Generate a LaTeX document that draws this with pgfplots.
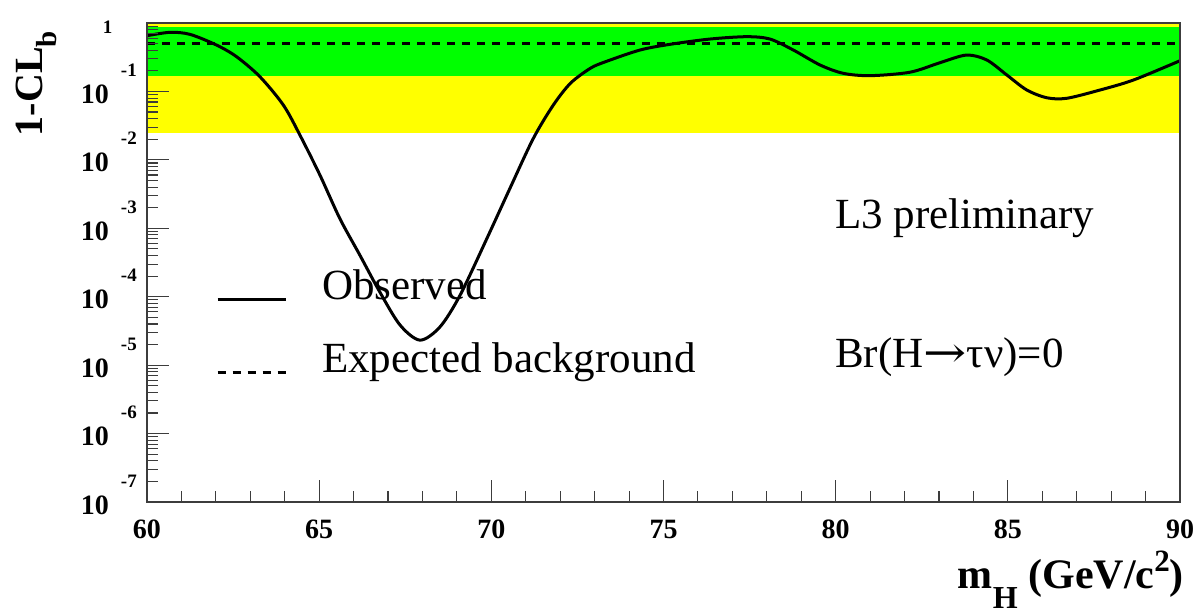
\documentclass[border=0pt]{standalone}
\usepackage{fontspec}
\setmainfont{Liberation Serif}
\newfontfamily\arrowfont{DejaVu Serif}
\usepackage{pgfplots}
\pgfplotsset{compat=1.18}

\definecolor{bandyellow}{RGB}{255,255,0}
\definecolor{bandgreen}{RGB}{0,255,0}
\definecolor{framegray}{RGB}{60,60,60}

% tick label fonts
\newcommand{\tlfont}{\fontsize{28}{28}\selectfont\bfseries}
\newcommand{\exfont}{\fontsize{19}{19}\selectfont\bfseries}
% ROOT-style power-of-ten label: "10" with the exponent set high and to the right
\newcommand{\pten}[1]{\textbf{10}\hspace{12pt}\raisebox{27pt}{\exfont #1}}

\begin{document}
\begin{tikzpicture}
\begin{axis}[
  scale only axis,
  width=1033pt, height=479pt,
  xmin=60, xmax=90,
  ymode=log, ymin=1e-7, ymax=1,
  xtick={60,65,70,75,80,85,90},
  xticklabels={60,65,70,75,80,85,90},
  minor x tick num=4,
  ytick={1e-7,1e-6,1e-5,1e-4,1e-3,1e-2,1e-1,1},
  yticklabels={\pten{-7},\pten{-6},\pten{-5},\pten{-4},\pten{-3},\pten{-2},\pten{-1},{\raisebox{2pt}{\makebox[34pt][l]{\exfont 1}}}},
  tick pos=left,
  tick align=inside,
  major tick length=22pt,
  minor tick length=11pt,
  every tick/.style={line width=1.1pt, framegray},
  axis line style={line width=1.3pt, framegray},
  axis on top,
  xticklabel style={font=\tlfont, anchor=base, yshift=-36pt, inner sep=0pt},
  yticklabel style={font=\tlfont, anchor=base east, xshift=-10pt, yshift=-12pt, inner sep=0pt},
  xlabel={\textbf{m}\raisebox{-20pt}{\fontsize{32}{32}\selectfont\bfseries H}\textbf{ (GeV/c}\raisebox{17pt}{\fontsize{31}{31}\selectfont\bfseries 2}\textbf{)}},
  ylabel={\textbf{1-CL}\raisebox{-14pt}{\fontsize{29}{29}\selectfont\bfseries b}},
  every axis x label/.style={at={(rel axis cs:1,0)}, anchor=base east, xshift=4pt, yshift=-86pt, inner sep=0pt, font=\fontsize{42}{42}\selectfont},
  every axis y label/.style={at={(rel axis cs:-0.1007,0.8737)}, rotate=90, anchor=base, inner sep=0pt, font=\fontsize{40}{40}\selectfont},
  legend style={draw=none, fill=none, at={(rel axis cs:0.0668,0.4854)}, anchor=north west,
    inner sep=0pt, outer sep=0pt, font=\fontsize{43}{43}\selectfont,
    nodes={anchor=base west, inner sep=0pt},
    row sep=42pt, column sep=35pt},
  legend image code/.code={\draw[#1] (0pt,0pt) -- (68pt,0pt);},
]
% 2 sigma and 1 sigma bands of the background expectation
\addplot[fill=bandyellow, draw=none, forget plot] coordinates {(60,0.0247) (90,0.0247) (90,0.98) (60,0.98)} -- cycle;
\addplot[fill=bandgreen, draw=none, forget plot] coordinates {(60,0.168) (90,0.168) (90,0.87) (60,0.87)} -- cycle;

% observed 1-CL_b
\addplot[black, line width=3pt, smooth, tension=0.5] coordinates {
(60.00,0.652) (60.67,0.731) (61.25,0.682) (62.02,0.476) (62.60,0.322)
(63.28,0.164) (63.96,0.0632) (64.44,0.0231) (65.02,0.00603) (65.60,0.00139)
(66.18,4.07e-4) (66.76,1.175e-4) (67.35,3.85e-5) (67.93,2.32e-5) (68.51,3.63e-5)
(69.09,1.047e-4) (69.87,7.08e-4) (70.54,3.83e-3) (71.22,0.0206) (71.80,0.0632)
(72.30,0.132) (72.87,0.217) (73.30,0.27) (74.32,0.403) (75.19,0.488)
(76.35,0.583) (77.42,0.631) (78.09,0.583) (78.77,0.403) (79.55,0.243)
(80.22,0.184) (81.00,0.170) (82.16,0.191) (83.03,0.263) (83.80,0.340)
(84.39,0.288) (84.97,0.174) (85.55,0.105) (86.13,0.0809) (86.71,0.0794)
(87.68,0.105) (88.65,0.147) (90.00,0.281)
};
\addlegendentry{Observed}

% expected background
\addplot[black, line width=3pt, dash pattern=on 8pt off 7pt] coordinates {(60,0.51) (90,0.51)};
\addlegendentry{Expected background}

\node[anchor=base west, inner sep=0pt, font=\fontsize{43}{43}\selectfont] at (rel axis cs:0.666,0.570) {L3 preliminary};
\node[anchor=base west, inner sep=0pt, font=\fontsize{43}{43}\selectfont] at (rel axis cs:0.666,0.2818) {Br(H\scalebox{1.2}[1]{\arrowfont →}τν)=0};
\end{axis}
\pgfresetboundingbox
\path[use as bounding box] (-147pt,-112pt) rectangle (1046pt,502pt);
\end{tikzpicture}
\end{document}
